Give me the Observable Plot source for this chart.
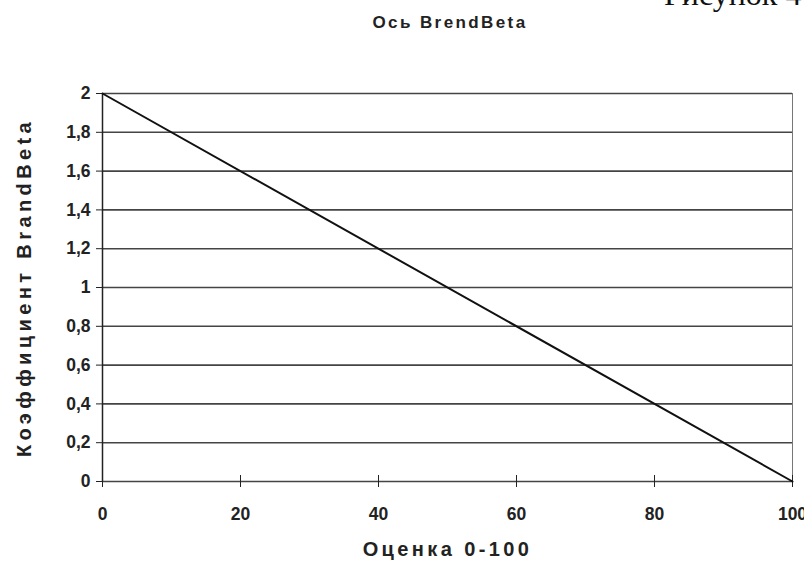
<!DOCTYPE html>
<html>
<head>
<meta charset="utf-8">
<script src="https://cdn.jsdelivr.net/npm/d3@7"></script>
<script src="https://cdn.jsdelivr.net/npm/@observablehq/plot@0.6"></script>
<style>
  html, body { margin: 0; padding: 0; background: #fff; }
  #wrap { position: relative; width: 804px; height: 574px; overflow: hidden; }
  .title { position: absolute; left: 0; width: 900px; top: 13px; text-align: center;
           font: bold 17px "Liberation Sans", Arial, sans-serif; color: #222; letter-spacing: 2.4px; }
  .fig { position: absolute; left: 664px; top: -24px; line-height: 1; font: 32px "Liberation Serif", serif; color: #111; white-space: nowrap; }
  #chart { position: absolute; left: 0; top: 0; }
  #chart svg g.ticklab text { font-size: 17.5px !important; }
</style>
</head>
<body>
<div id="wrap">
  <div id="chart"></div>
  <div class="fig">Рисунок 4</div>
  <div class="title">Ось BrendBeta</div>
</div>
<script>
const scores = [0, 100];
const coeffs = [2, 0];
const xTicks = [0, 20, 40, 60, 80, 100];
const yTicks = [0, 0.2, 0.4, 0.6, 0.8, 1, 1.2, 1.4, 1.6, 1.8, 2];
const xLabel = "Оценка 0-100";
const yLabel = "Коэффициент BrandBeta";

const data = scores.map((s, i) => ({score: s, coef: coeffs[i]}));
const fmt = d => String(d).replace(".", ",");

const chart = Plot.plot({
  width: 804,
  height: 574,
  marginLeft: 102,
  marginRight: 12,
  marginTop: 93,
  marginBottom: 93,
  style: {fontFamily: "'Liberation Sans', Arial, sans-serif", fontWeight: "bold", background: "transparent", color: "#222"},
  x: {domain: [0, 100]},
  y: {domain: [0, 2]},
  marks: [
    Plot.ruleY(yTicks, {stroke: "#444", strokeWidth: 1.6}),
    Plot.ruleX([100], {stroke: "#777", strokeWidth: 1}),
    Plot.ruleX([0], {stroke: "#222", strokeWidth: 1.5}),
    Plot.axisX({ticks: xTicks, tickSize: 6, tickPadding: 20, label: null}),
    Plot.axisX({ticks: xTicks, tickSize: -6, text: null, label: null}),
    Plot.axisY({ticks: yTicks, tickSize: 6, tickPadding: 6, tickFormat: fmt, label: null}),
    Plot.line(data, {x: "score", y: "coef", stroke: "#111", strokeWidth: 2}),
    Plot.text([xLabel], {frameAnchor: "bottom", dy: 74, fontSize: 20, fontWeight: "bold", fill: "#222"}),
    Plot.text([yLabel], {frameAnchor: "left", dx: -78, rotate: -90, textAnchor: "middle", fontSize: 20, fontWeight: "bold", fill: "#222"})
  ]
});
// adjust label typography (font size of tick labels, letter spacing of titles)
d3.select(chart).selectAll("g").filter(function() {
  const a = this.getAttribute("aria-label") || "";
  return a.indexOf("tick label") >= 0;
}).classed("ticklab", true);
d3.select(chart).selectAll("text").filter(function() { return this.textContent === xLabel; }).style("letter-spacing", "3.4px");
d3.select(chart).selectAll("text").filter(function() { return this.textContent === yLabel; }).style("letter-spacing", "4.4px");
document.getElementById("chart").appendChild(chart);
</script>
</body>
</html>
